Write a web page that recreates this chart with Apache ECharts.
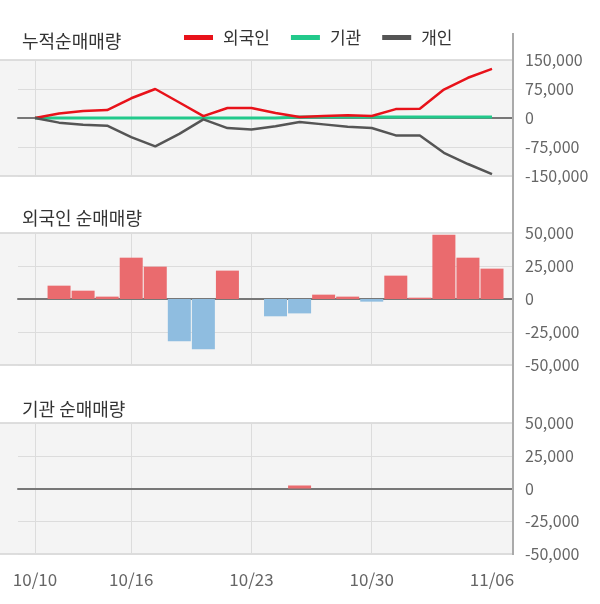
<!DOCTYPE html>
<html>
<head>
<meta charset="utf-8">
<script src="https://cdn.jsdelivr.net/npm/echarts@6/dist/echarts.min.js"></script>
<style>
html,body{margin:0;padding:0;background:#fff;}
#chart{width:600px;height:604px;}
</style>
</head>
<body>
<div id="chart"></div>
<script>
// ---- data ----
const dates = ['10/10','10/11','10/14','10/15','10/16','10/17','10/18','10/21','10/22','10/23',
               '10/24','10/25','10/28','10/29','10/30','10/31','11/01','11/04','11/05','11/06'];
const labelIdx = [0, 4, 9, 14, 19];
const gridIdx = [0, 4, 9, 14];

// cumulative net buying
const foreignCum = [0, 11500, 18000, 20500, 51000, 75000, 40000, 5000, 26000, 26000,
                    13000, 2500, 5000, 7000, 5000, 23000, 24000, 73500, 104000, 127000];
const instCum    = [0, 0, 0, 0, 0, 0, 0, 0, 0, 0,
                    0, 2300, 2300, 2300, 2300, 2300, 2300, 2300, 2300, 2300];
const indivCum   = [0, -12000, -17500, -20000, -49500, -73500, -41000, -3500, -26000, -29500,
                    -21500, -10500, -16500, -22500, -26000, -45000, -45500, -90000, -119000, -145000];

// daily net buying
const foreignDaily = [0, 10100, 6300, 1800, 31300, 24500, -32100, -38100, 21500, 0,
                      -13100, -10900, 3300, 1800, -2000, 17700, 1000, 48700, 31300, 23000];
const instDaily    = [0, 0, 0, 0, 0, 0, 0, 0, 0, 0,
                      0, 2300, 0, 0, 0, 0, 0, 0, 0, 0];

const cumTicks = [-150000, -75000, 0, 75000, 150000];
const dayTicks = [-50000, -25000, 0, 25000, 50000];

// ---- styling ----
const FONT = "'Noto Sans CJK KR', 'Noto Sans', sans-serif";
const RED = '#e8121a', GREEN = '#22c98b', GREY = '#555555';
const BAR_POS = '#ea6b6e', BAR_NEG = '#8fbde0';

const X_MIN = -0.707, X_MAX = 19.873;
const panels = [
  {top: 60, height: 116},
  {top: 233, height: 132},
  {top: 423, height: 131}
];

const pts = arr => arr.map((v, i) => [i, v]);
const fmt = v => Number(v).toLocaleString('en-US');

function xAxisFor(gi) {
  return {
    type: 'value', gridIndex: gi, min: X_MIN, max: X_MAX,
    axisLine: {show: true, onZero: true, lineStyle: {color: '#777', width: 2}},
    axisTick: {show: false, customValues: gridIdx},
    axisLabel: {show: false, customValues: labelIdx},
    splitLine: {show: true, lineStyle: {color: '#dcdcdc', width: 1}}
  };
}
function yAxisFor(gi, ticks) {
  return {
    type: 'value', gridIndex: gi, position: 'right',
    min: ticks[0], max: ticks[ticks.length - 1], interval: ticks[1] - ticks[0],
    axisLine: {show: false}, axisTick: {show: false},
    axisLabel: {margin: 12, fontSize: 16, color: '#666', fontFamily: FONT, formatter: fmt},
    splitLine: {show: true, lineStyle: {color: '#dcdcdc', width: 1}}
  };
}

const titleStyle = {fontSize: 18, fontWeight: 'normal', color: '#333', fontFamily: FONT};

const chart = echarts.init(document.getElementById('chart'), null, {renderer: 'canvas'});
const option = {
  animation: false,
  textStyle: {fontFamily: FONT},
  title: [
    {text: '누적순매매량', left: 22, top: 32, padding: 0, textStyle: titleStyle},
    {text: '외국인 순매매량', left: 22, top: 209, padding: 0, textStyle: titleStyle},
    {text: '기관 순매매량', left: 22, top: 400, padding: 0, textStyle: titleStyle}
  ],
  legend: {
    data: ['외국인', '기관', '개인'],
    left: 184, top: 29, padding: 0,
    icon: 'rect', itemWidth: 29, itemHeight: 5, itemGap: 21,
    textStyle: {fontSize: 17, color: '#333', fontFamily: FONT, padding: [0, 0, 0, 5]}
  },
  grid: panels.map(p => ({left: 18, right: 87, top: p.top, height: p.height, containLabel: false})),
  xAxis: [
    xAxisFor(0), xAxisFor(1), xAxisFor(2),
    {
      type: 'value', gridIndex: 2, position: 'bottom', min: X_MIN, max: X_MAX,
      axisLine: {show: false, onZero: false}, axisTick: {show: false, customValues: labelIdx},
      splitLine: {show: false},
      axisLabel: {show: true, customValues: labelIdx, margin: 17, fontSize: 17, color: '#666',
                  fontFamily: FONT, formatter: v => dates[Math.round(v)]}
    }
  ],
  yAxis: [yAxisFor(0, cumTicks), yAxisFor(1, dayTicks), yAxisFor(2, dayTicks)],
  graphic: {elements: [
    ...panels.map(p => ({type: 'rect', z: -10, silent: true,
      shape: {x: -2, y: p.top, width: 515, height: p.height},
      style: {fill: '#f4f4f4', stroke: '#d4d4d4', lineWidth: 1.5}})),
    {type: 'line', z: 100, silent: true,
     shape: {x1: 513, y1: 33, x2: 513, y2: 555},
     style: {stroke: '#aaaaaa', lineWidth: 2}}
  ]},
  series: [
    {name: '기관', type: 'line', xAxisIndex: 0, yAxisIndex: 0, data: pts(instCum),
     symbol: 'none', lineStyle: {color: GREEN, width: 3}, itemStyle: {color: GREEN}},
    {name: '외국인', type: 'line', xAxisIndex: 0, yAxisIndex: 0, data: pts(foreignCum),
     symbol: 'none', lineStyle: {color: RED, width: 2.5}, itemStyle: {color: RED}},
    {name: '개인', type: 'line', xAxisIndex: 0, yAxisIndex: 0, data: pts(indivCum),
     symbol: 'none', lineStyle: {color: GREY, width: 2.5}, itemStyle: {color: GREY}},
    {name: '외국인 일별', type: 'bar', xAxisIndex: 1, yAxisIndex: 1, data: pts(foreignDaily),
     barWidth: 23,
     itemStyle: {color: p => (p.value[1] >= 0 ? BAR_POS : BAR_NEG)}},
    {name: '기관 일별', type: 'bar', xAxisIndex: 2, yAxisIndex: 2, data: pts(instDaily),
     barWidth: 23,
     itemStyle: {color: p => (p.value[1] >= 0 ? BAR_POS : BAR_NEG)}}
  ]
};
chart.setOption(option);
</script>
</body>
</html>
